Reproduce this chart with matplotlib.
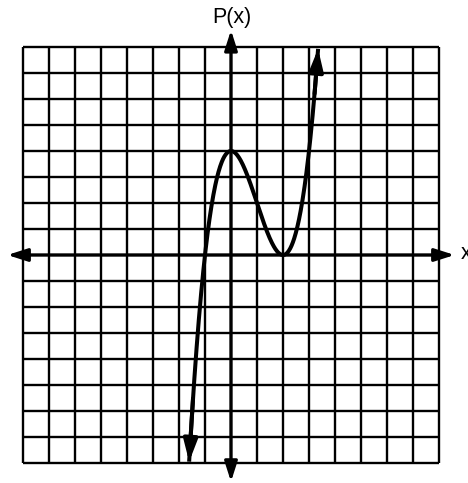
import numpy as np
import matplotlib.pyplot as plt

# grid spans -8..8 in both directions, one unit per square
grid_vals = np.arange(-8, 9)

# P(x) = (x + 1)(x - 2)^2
roots = [-1, 2, 2]
lead = 1.0
x_start, x_end = -1.61, 3.35

# axis extents (arrow tips)
x_axis_ends = (-8.6, 8.6)
y_axis_ends = (-8.72, 8.65)

fig = plt.figure(figsize=(4.68, 4.83), dpi=100)
ax = fig.add_axes([0, 0, 1, 1])
ax.set_xlim(-231 / 26, (468 - 231) / 26)
ax.set_ylim((255 - 483) / 26, 255 / 26)
ax.axis('off')

# graph paper
for g in grid_vals:
    ax.plot([g, g], [grid_vals[0], grid_vals[-1]], color='black', lw=1.7,
            solid_capstyle='butt', zorder=1)
    ax.plot([grid_vals[0], grid_vals[-1]], [g, g], color='black', lw=1.7,
            solid_capstyle='butt', zorder=1)

# axes with arrows at both ends
arrow = dict(arrowstyle='<|-|>,head_length=1.0,head_width=0.32', color='black',
             lw=2.3, shrinkA=0, shrinkB=0, mutation_scale=12)
ax.annotate('', xy=(x_axis_ends[1], 0), xytext=(x_axis_ends[0], 0),
            arrowprops=arrow, zorder=2)
ax.annotate('', xy=(0, y_axis_ends[1]), xytext=(0, y_axis_ends[0]),
            arrowprops=arrow, zorder=2)

ax.text(0.05, 9.15, 'P(x)', ha='center', va='center', fontsize=15.5,
        family='Liberation Sans')
ax.text(8.85, 0.05, 'x', ha='left', va='center', fontsize=15.5,
        family='Liberation Sans')

# the cubic
poly = lead * np.poly(roots)
xs = np.linspace(x_start, x_end, 400)
ys = np.polyval(poly, xs)
ax.plot(xs, ys, color='black', lw=2.9, zorder=3, solid_capstyle='butt')

head = dict(arrowstyle='-|>,head_length=1.1,head_width=0.35', color='black',
            lw=2.9, shrinkA=0, shrinkB=0, mutation_scale=12)
ax.annotate('', xy=(xs[0], ys[0]), xytext=(xs[12], ys[12]), arrowprops=head, zorder=3)
ax.annotate('', xy=(xs[-1], ys[-1]), xytext=(xs[-12], ys[-12]), arrowprops=head, zorder=3)

fig.savefig('out.png', dpi=100, facecolor='white')
